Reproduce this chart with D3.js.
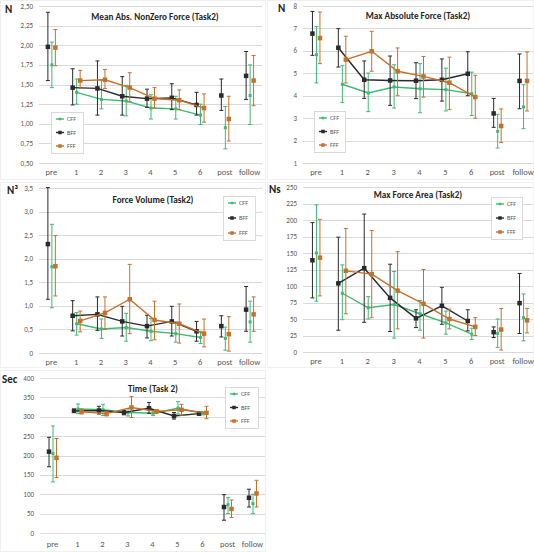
<!DOCTYPE html>
<html>
<head>
<meta charset="utf-8">
<script src="https://cdn.jsdelivr.net/npm/d3@7"></script>
<style>
  body { margin: 0; background: #fff; }
  svg { display: block; font-family: Calibri, Carlito, "Liberation Sans", Arial, sans-serif; }
</style>
</head>
<body>
<svg width="534" height="552"></svg>
<script>
const categories = ['pre', '1', '2', '3', '4', '5', '6', 'post', 'follow']
const seriesNames = ['CFF', 'BFF', 'FFF']
const colors = { CFF: '#3dbb72', BFF: '#2a2a2a', FFF: '#c7702c' }

// Mean Abs. NonZero Force
const nzCFF = [1.75, 1.40, 1.31, 1.29, 1.20, 1.19, 1.11, 0.95, 1.36]
const nzCFFhi = [2.04, 1.57, 1.56, 1.49, 1.37, 1.35, 1.25, 1.22, 1.75]
const nzCFFlo = [1.46, 1.25, 1.19, 1.10, 1.06, 1.06, 0.99, 0.68, 0.99]
const nzBFF = [1.98, 1.46, 1.45, 1.35, 1.32, 1.33, 1.24, 1.36, 1.61]
const nzBFFhi = [2.42, 1.70, 1.80, 1.60, 1.44, 1.51, 1.40, 1.57, 1.92]
const nzBFFlo = [1.55, 1.24, 1.11, 1.11, 1.21, 1.18, 1.11, 1.17, 1.31]
const nzFFF = [1.97, 1.55, 1.56, 1.46, 1.32, 1.30, 1.20, 1.06, 1.55]
const nzFFFhi = [2.20, 1.68, 1.69, 1.65, 1.46, 1.43, 1.38, 1.35, 1.87]
const nzFFFlo = [1.74, 1.45, 1.45, 1.28, 1.20, 1.18, 1.02, 0.78, 1.23]

// Max Absolute Force
const maxCFF = [5.83, 4.51, 4.12, 4.39, 4.31, 4.27, 4.09, 2.41, 3.50]
const maxCFFhi = [7.09, 5.34, 5.01, 5.38, 5.43, 5.23, 5.05, 3.17, 4.49]
const maxCFFlo = [4.57, 3.70, 3.29, 3.45, 3.24, 3.32, 3.12, 1.67, 2.53]
const maxBFF = [6.77, 6.14, 4.71, 4.68, 4.67, 4.71, 4.98, 3.21, 4.66]
const maxBFFhi = [7.76, 6.99, 5.55, 5.77, 5.47, 5.64, 5.96, 3.88, 5.86]
const maxBFFlo = [5.80, 5.28, 3.88, 3.57, 3.87, 3.76, 4.00, 2.59, 3.42]
const maxFFF = [6.57, 5.61, 5.98, 5.09, 4.86, 4.58, 3.94, 2.65, 4.66]
const maxFFFhi = [7.73, 6.65, 6.87, 6.13, 5.75, 5.72, 4.91, 3.41, 5.95]
const maxFFFlo = [5.43, 4.57, 5.09, 4.00, 3.94, 3.38, 3.00, 1.91, 3.32]

// Force Volume
const volCFF = [1.83, 0.62, 0.51, 0.54, 0.46, 0.41, 0.33, 0.31, 0.66]
const volCFFhi = [2.73, 0.86, 0.72, 0.84, 0.73, 0.66, 0.46, 0.55, 1.10]
const volCFFlo = [0.96, 0.38, 0.31, 0.25, 0.26, 0.23, 0.20, 0.06, 0.23]
const volBFF = [2.31, 0.79, 0.82, 0.67, 0.57, 0.67, 0.46, 0.57, 0.92]
const volBFFhi = [3.51, 1.11, 1.19, 0.99, 0.80, 0.99, 0.67, 0.79, 1.41]
const volBFFlo = [1.14, 0.47, 0.48, 0.36, 0.32, 0.36, 0.25, 0.34, 0.46]
const volFFF = [1.84, 0.68, 0.85, 1.14, 0.70, 0.62, 0.41, 0.40, 0.82]
const volFFFhi = [2.49, 0.89, 1.19, 1.88, 1.10, 1.04, 0.72, 0.77, 1.19]
const volFFFlo = [1.21, 0.45, 0.50, 0.41, 0.28, 0.21, 0.13, 0.04, 0.46]

// Max Force Area
const areaCFF = [150, 89, 67, 72, 58, 44, 27, 28, 52]
const areaCFFhi = [223, 132, 84, 122, 78, 62, 36, 50, 88]
const areaCFFlo = [77, 49, 50, 21, 33, 27, 19, 7, 17]
const areaBFF = [139, 104, 127, 82, 51, 70, 47, 30, 74]
const areaBFFhi = [196, 174, 209, 133, 64, 98, 64, 38, 119]
const areaBFFlo = [82, 33, 45, 31, 37, 42, 32, 22, 28]
const areaFFF = [143, 123, 118, 93, 73, 50, 38, 34, 48]
const areaFFFhi = [201, 187, 184, 152, 125, 65, 52, 66, 66]
const areaFFFlo = [85, 58, 52, 35, 21, 35, 25, 3, 29]

// Time
const timeCFF = [205, 320, 318, 311, 309, 322, 309, 73, 76]
const timeCFFhi = [276, 333, 332, 321, 316, 339, 313, 91, 100]
const timeCFFlo = [132, 308, 303, 302, 303, 307, 305, 50, 50]
const timeBFF = [210, 315, 316, 311, 322, 302, 308, 67, 91]
const timeBFFhi = [247, 320, 327, 316, 337, 311, 312, 99, 113]
const timeBFFlo = [171, 311, 307, 305, 309, 294, 305, 33, 67]
const timeFFF = [194, 313, 308, 324, 314, 318, 310, 62, 102]
const timeFFFhi = [244, 320, 312, 352, 317, 332, 327, 85, 136]
const timeFFFlo = [143, 307, 302, 298, 309, 304, 295, 40, 67]

const svg = d3.select('svg')

// faint chart borders
const borders = [[0, 0, 266, 180], [267, 0, 267, 180], [0, 182, 266, 186], [267, 182, 267, 186], [0, 370, 266, 182]]
borders.forEach(b => {
  svg.append('rect')
    .attr('x', b[0] + 0.5).attr('y', b[1] + 0.5)
    .attr('width', b[2] - 1).attr('height', b[3] - 1)
    .attr('fill', 'none').attr('stroke', '#f0f0f0')
})

const panels = [
  {
    title: 'Mean Abs. NonZero Force (Task2)', unit: 'N',
    x0: 39, x1: 262, y0: 163, y1: 6, domain: [0.5, 2.5], step: 0.25, fmt: ',.2f',
    titleX: 155, titleY: 20, unitX: 5, unitY: 13, labelY: 175,
    legend: [51, 112, 32, 41],
    data: { CFF: [nzCFF, nzCFFhi, nzCFFlo], BFF: [nzBFF, nzBFFhi, nzBFFlo], FFF: [nzFFF, nzFFFhi, nzFFFlo] }
  },
  {
    title: 'Max Absolute Force (Task2)', unit: 'N',
    x0: 303, x1: 536, y0: 163, y1: 6, domain: [1, 8], step: 1, fmt: 'd',
    titleX: 418, titleY: 19, unitX: 278, unitY: 12, labelY: 175,
    legend: [314, 111, 31, 41],
    data: { CFF: [maxCFF, maxCFFhi, maxCFFlo], BFF: [maxBFF, maxBFFhi, maxBFFlo], FFF: [maxFFF, maxFFFhi, maxFFFlo] }
  },
  {
    title: 'Force Volume (Task2)', unit: 'N³',
    x0: 39, x1: 262, y0: 353, y1: 188, domain: [0, 3.5], step: 0.5, fmt: ',.1f',
    titleX: 153, titleY: 203, unitX: 7, unitY: 194, labelY: 365,
    legend: [223, 196, 32, 44],
    data: { CFF: [volCFF, volCFFhi, volCFFlo], BFF: [volBFF, volBFFhi, volBFFlo], FFF: [volFFF, volFFFhi, volFFFlo] }
  },
  {
    title: 'Max Force Area (Task2)', unit: 'Ns',
    x0: 303, x1: 536, y0: 352, y1: 187, domain: [0, 250], step: 25, fmt: 'd',
    titleX: 418, titleY: 198, unitX: 269, unitY: 193, labelY: 364,
    legend: [491, 197, 31, 42],
    data: { CFF: [areaCFF, areaCFFhi, areaCFFlo], BFF: [areaBFF, areaBFFhi, areaBFFlo], FFF: [areaFFF, areaFFFhi, areaFFFlo] }
  },
  {
    title: 'Time (Task 2)', unit: 'Sec',
    x0: 40, x1: 265, y0: 533, y1: 378, domain: [0, 400], step: 50, fmt: 'd',
    titleX: 153, titleY: 392, unitX: 2, unitY: 383, labelY: 547,
    legend: [225, 387, 33, 41],
    data: { CFF: [timeCFF, timeCFFhi, timeCFFlo], BFF: [timeBFF, timeBFFhi, timeBFFlo], FFF: [timeFFF, timeFFFhi, timeFFFlo] }
  }
]

const offsets = { CFF: 0.5, BFF: -3.5, FFF: 4 }

function fmtTick(fmt, v) {
  if (v === 0) return '0'
  return d3.format(fmt)(v).replace('.', ',')
}

function drawPanel(p) {
  const g = svg.append('g')
  const x = d3.scaleBand().domain(categories).range([p.x0, p.x1])
  const y = d3.scaleLinear().domain(p.domain).range([p.y0, p.y1])
  const ticks = d3.range(p.domain[0], p.domain[1] + p.step / 2, p.step)

  g.selectAll('.grid').data(ticks).join('line')
    .attr('x1', p.x0).attr('x2', Math.min(p.x1, 533))
    .attr('y1', d => Math.round(y(d)) + 0.5).attr('y2', d => Math.round(y(d)) + 0.5)
    .attr('stroke', '#d9d9d9').attr('stroke-width', 1)

  g.selectAll('.ytick').data(ticks).join('text')
    .attr('x', p.x0 - 6).attr('y', d => y(d) + 2.5)
    .attr('text-anchor', 'end').attr('font-size', 7).attr('fill', '#595959')
    .text(d => fmtTick(p.fmt, d))

  g.selectAll('.xtick').data(categories).join('text')
    .attr('x', d => x(d) + x.bandwidth() / 2).attr('y', p.labelY)
    .attr('text-anchor', 'middle').attr('font-size', 8.5).attr('fill', '#595959')
    .text(d => d)

  g.append('text')
    .attr('x', p.unitX).attr('y', p.unitY)
    .attr('font-size', 11).attr('font-weight', 'bold').attr('fill', '#222')
    .text(p.unit)

  g.append('text')
    .attr('x', p.titleX).attr('y', p.titleY)
    .attr('text-anchor', 'middle').attr('font-size', 9.2).attr('font-weight', 'bold').attr('fill', '#262626')
    .text(p.title)

  const cx = (i, s) => x(categories[i]) + x.bandwidth() / 2 + offsets[s]
  const lineIdx = [1, 2, 3, 4, 5, 6]

  seriesNames.forEach(s => {
    const [mean, hi, lo] = p.data[s]
    const col = colors[s]
    const line = d3.line().x(i => cx(i, s)).y(i => y(mean[i]))
    g.append('path').datum(lineIdx)
      .attr('d', line).attr('fill', 'none')
      .attr('stroke', col).attr('stroke-width', 1.4)

    const eb = g.append('g')
    eb.selectAll('.v').data(mean).join('line')
      .attr('x1', (d, i) => cx(i, s)).attr('x2', (d, i) => cx(i, s))
      .attr('y1', (d, i) => y(hi[i])).attr('y2', (d, i) => y(lo[i]))
      .attr('stroke', col).attr('stroke-width', 1)
    ;[hi, lo].forEach(arr => {
      eb.selectAll(null).data(arr).join('line')
        .attr('x1', (d, i) => cx(i, s) - 2).attr('x2', (d, i) => cx(i, s) + 2)
        .attr('y1', d => y(d)).attr('y2', d => y(d))
        .attr('stroke', col).attr('stroke-width', 1)
    })
    const size = s === 'CFF' ? 3 : 4.5
    g.selectAll(null).data(mean).join('rect')
      .attr('x', (d, i) => cx(i, s) - size / 2).attr('y', d => y(d) - size / 2)
      .attr('width', size).attr('height', size)
      .attr('fill', col)
  })

  // legend
  const [lx, ly, lw, lh] = p.legend
  const lg = g.append('g')
  lg.append('rect')
    .attr('x', lx + 0.5).attr('y', ly + 0.5).attr('width', lw).attr('height', lh)
    .attr('fill', '#fff').attr('stroke', '#d9d9d9')
  seriesNames.forEach((s, i) => {
    const yy = ly + 7 + i * (lh - 14) / 2
    lg.append('line')
      .attr('x1', lx + 5).attr('x2', lx + 13).attr('y1', yy).attr('y2', yy)
      .attr('stroke', colors[s]).attr('stroke-width', 1.4)
    const sz = s === 'CFF' ? 2.5 : 3.5
    lg.append('rect')
      .attr('x', lx + 9 - sz / 2).attr('y', yy - sz / 2).attr('width', sz).attr('height', sz)
      .attr('fill', colors[s])
    lg.append('text')
      .attr('x', lx + 16).attr('y', yy + 2.2)
      .attr('font-size', 6.3).attr('fill', '#595959')
      .text(s)
  })
}

panels.forEach(drawPanel)
</script>
</body>
</html>
